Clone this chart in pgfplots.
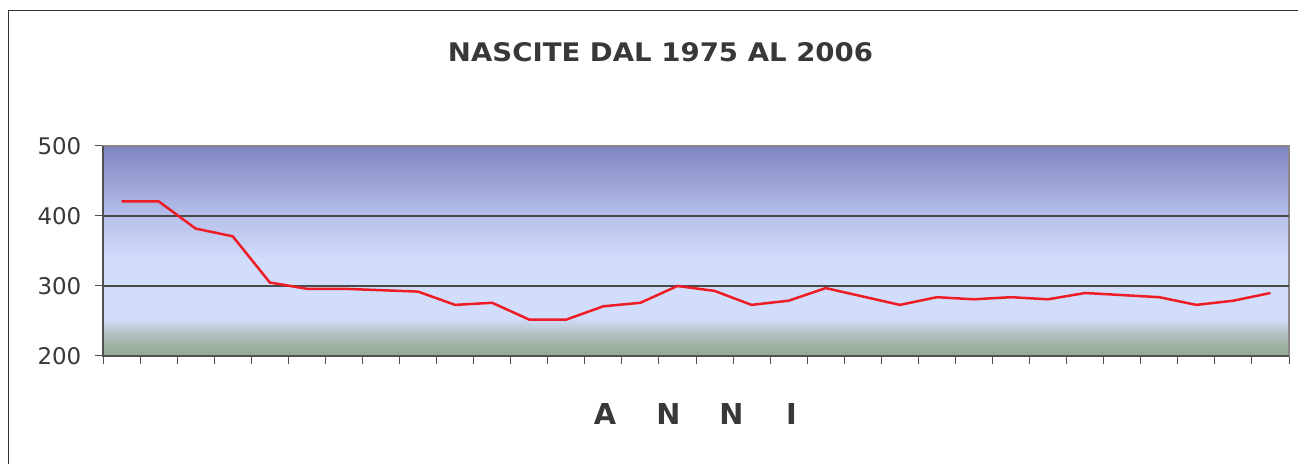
\documentclass[border=0pt]{standalone}
\usepackage{pgfplots}
\pgfplotsset{compat=1.18}
\usepackage{fontspec}
\setmainfont{DejaVu Sans}
\definecolor{sA}{HTML}{92A891}
\definecolor{sB}{HTML}{A8B8B0}
\definecolor{sC}{HTML}{D2DDFB}
\definecolor{sD}{HTML}{D2DDFB}
\definecolor{sE}{HTML}{B6C0EA}
\definecolor{sF}{HTML}{7F85C1}
\definecolor{framec}{HTML}{333333}
\definecolor{titlec}{HTML}{38383A}
\definecolor{borderc}{HTML}{8E8586}
\definecolor{axisdark}{HTML}{505050}
\definecolor{gridc}{HTML}{4A4A4A}
\definecolor{linec}{HTML}{EE1D25}
\pgfdeclareverticalshading{bgshade}{100bp}{color(0bp)=(sA); color(25bp)=(sA); color(29bp)=(sB); color(34bp)=(sC); color(48bp)=(sD); color(58.33bp)=(sE); color(75bp)=(sF); color(100bp)=(sF)}
\pgfplotstableread{
x y
0 421
1 421
2 382
3 371
4 305
5 296
6 296
7 294
8 292
9 273
10 276
11 252
12 252
13 271
14 276
15 300
16 293
17 273
18 279
19 297
20 285
21 273
22 284
23 281
24 284
25 281
26 290
27 287
28 284
29 273
30 279
31 290
}\births
\begin{document}
\begin{tikzpicture}[x=1bp,y=1bp]
\useasboundingbox (0,0) rectangle (1298,464);
\draw[line width=1.3bp, color=framec] (8.7,-5) -- (8.7,453.5) -- (1305,453.5);
\node[text=titlec, inner sep=0] at (660.5,411.8) {\resizebox{425bp}{19bp}{\bfseries NASCITE DAL 1975 AL 2006}};
\node[text=titlec, inner sep=0] at (605,50.2) {\resizebox{!}{21bp}{\bfseries A}};
\node[text=titlec, inner sep=0] at (668.5,50.2) {\resizebox{!}{21bp}{\bfseries N}};
\node[text=titlec, inner sep=0] at (731.5,50.2) {\resizebox{!}{21bp}{\bfseries N}};
\node[text=titlec, inner sep=0] at (791.5,50.2) {\resizebox{!}{21bp}{\bfseries I}};
\begin{axis}[
  at={(103bp,108bp)}, anchor=south west,
  scale only axis, width=1186bp, height=210bp,
  xmin=-0.5, xmax=31.5, ymin=200, ymax=500,
  xtick={-0.5,0.5,...,31.5}, xticklabels={},
  ytick={200,300,400,500},
  xtick pos=bottom, ytick pos=left,
  tick align=outside,
  major tick length=8.5bp,
  tick style={draw=axisdark, line width=1bp},
  extra y ticks={300,400}, extra y tick labels={},
  extra y tick style={grid=major, major tick length=0pt},
  major grid style={draw=gridc, line width=1.2bp},
  axis line style={draw=borderc, line width=1.5bp},
  axis background/.style={shade, shading=bgshade},
  /pgf/number format/assume math mode=true,
  yticklabel style={font=\fontsize{23}{23}\selectfont, text=titlec, inner sep=0pt, anchor=east, xshift=-13bp},
  clip=false,
]
\addplot[color=linec, line width=2.5bp, mark=none] table[x=x, y=y] {\births};
\draw[axisdark, line width=1.5bp] (rel axis cs:0,1) -- (rel axis cs:0,0) -- (rel axis cs:1,0);
\end{axis}
\end{tikzpicture}
\end{document}
